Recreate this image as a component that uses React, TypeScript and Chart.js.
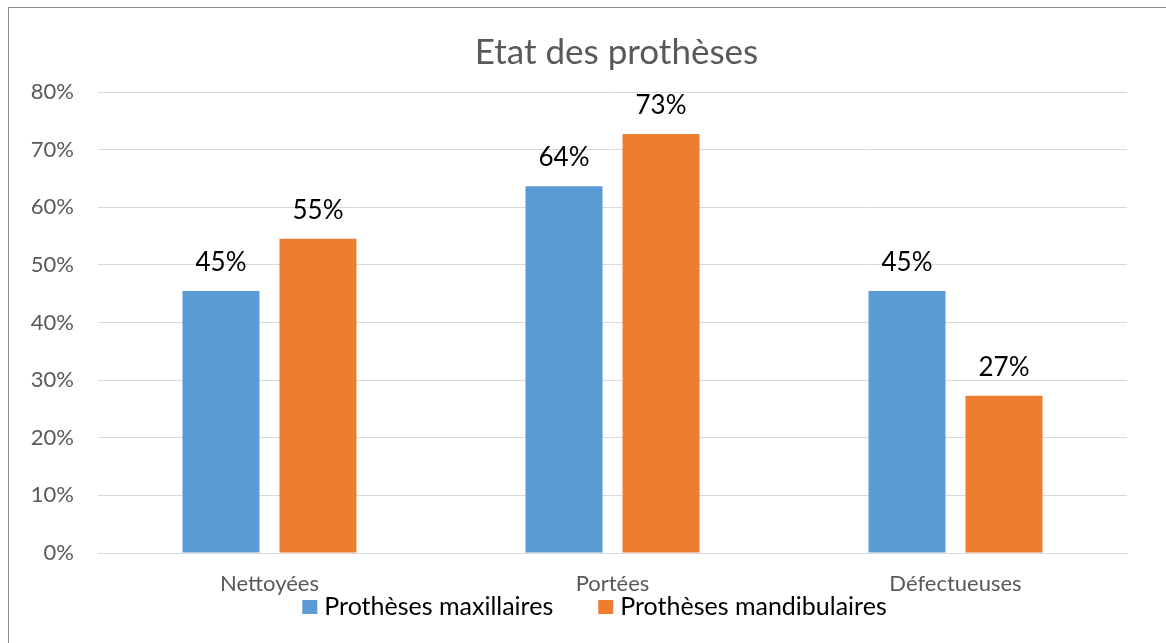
import React, { useEffect, useRef } from "react";
import { Chart, registerables } from "chart.js";

Chart.register(...registerables);

const title = "Etat des prothèses";
const categories = ["Nettoyées", "Portées", "Défectueuses"];
const seriesNames = ["Prothèses maxillaires", "Prothèses mandibulaires"];
const maxillaires = [45.45, 63.64, 45.45];
const mandibulaires = [54.55, 72.73, 27.27];
const seriesColors = ["#5B9BD5", "#ED7D31"];
const yMin = 0;
const yMax = 80;
const yStep = 10;

const FONT = "Lato, 'Open Sans', sans-serif";

const titlePlugin = {
  id: "centeredTitle",
  afterDraw(chart: any) {
    const ctx = chart.ctx;
    const area = chart.chartArea;
    ctx.save();
    ctx.font = `35px ${FONT}`;
    ctx.fillStyle = "#595959";
    ctx.textAlign = "center";
    ctx.textBaseline = "alphabetic";
    ctx.fillText(title, (area.left + area.right) / 2 + 4, area.top - 28);
    ctx.restore();
  },
};

const dataLabelPlugin = {
  id: "dataLabels",
  afterDatasetsDraw(chart: any) {
    const ctx = chart.ctx;
    ctx.save();
    ctx.font = `26px ${FONT}`;
    ctx.fillStyle = "#000000";
    ctx.textAlign = "center";
    ctx.textBaseline = "alphabetic";
    chart.data.datasets.forEach((ds: any, di: number) => {
      const meta = chart.getDatasetMeta(di);
      meta.data.forEach((bar: any, i: number) => {
        const v = ds.data[i];
        ctx.fillText(`${Math.round(v)}%`, bar.x, bar.y - 20);
      });
    });
    ctx.restore();
  },
};

const customLegendPlugin = {
  id: "customLegend",
  afterDraw(chart: any) {
    const ctx = chart.ctx;
    const box = 15;
    const gapText = 7;
    const itemGap = 45;
    ctx.save();
    ctx.font = `25px ${FONT}`;
    const items = chart.data.datasets.map((ds: any) => ({
      label: ds.label,
      color: ds.backgroundColor,
      w: ctx.measureText(ds.label).width,
    }));
    const total =
      items.reduce((s: number, it: any) => s + box + gapText + it.w, 0) +
      itemGap * (items.length - 1);
    const area = chart.chartArea;
    const center = (area.left + area.right) / 2 - 18;
    let x = center - total / 2;
    const baseline = area.bottom + 62;
    ctx.textBaseline = "alphabetic";
    ctx.textAlign = "left";
    items.forEach((it: any) => {
      ctx.fillStyle = it.color;
      ctx.fillRect(x, baseline - 15, box, 14);
      x += box + gapText;
      ctx.fillStyle = "#000000";
      ctx.fillText(it.label, x, baseline);
      x += it.w + itemGap;
    });
    ctx.restore();
  },
};

export default function App() {
  const canvasRef = useRef<HTMLCanvasElement | null>(null);

  useEffect(() => {
    if (!canvasRef.current) return;
    Chart.defaults.font.family = FONT;
    const chart = new Chart(canvasRef.current, {
      type: "bar",
      data: {
        labels: categories,
        datasets: [
          {
            label: seriesNames[0],
            data: maxillaires,
            backgroundColor: seriesColors[0],
            categoryPercentage: 0.5656,
            barPercentage: 0.794,
          },
          {
            label: seriesNames[1],
            data: mandibulaires,
            backgroundColor: seriesColors[1],
            categoryPercentage: 0.5656,
            barPercentage: 0.794,
          },
        ],
      },
      options: {
        animation: false,
        responsive: false,
        maintainAspectRatio: false,
        layout: { padding: { left: 0, right: 39, top: 84, bottom: 40 } },
        plugins: {
          legend: { display: false },
          tooltip: { enabled: false },
          title: { display: false },
        },
        scales: {
          x: {
            grid: { display: false, drawTicks: false },
            border: { display: true, color: "#D9D9D9", width: 1 },
            ticks: {
              color: "#595959",
              font: { size: 22, family: FONT },
              padding: 18,
            },
            afterFit: (s: any) => {
              s.height = 55;
            },
          },
          y: {
            min: yMin,
            max: yMax,
            ticks: {
              stepSize: yStep,
              color: "#595959",
              font: { size: 22, family: FONT },
              padding: 24,
              callback: (v: any) => `${v}%`,
            },
            grid: { color: "#D9D9D9", lineWidth: 1, drawTicks: false },
            border: { display: false },
            afterFit: (s: any) => {
              s.width = 89;
            },
          },
        },
      },
      plugins: [dataLabelPlugin, titlePlugin, customLegendPlugin],
    });
    return () => chart.destroy();
  }, []);

  return (
    <div
      style={{
        position: "fixed",
        left: 8,
        top: 7,
        width: 1157,
        height: 640,
        borderLeft: "1px solid #8C8C8C",
        borderTop: "1px solid #8C8C8C",
        background: "#FFFFFF",
      }}
    >
      <canvas ref={canvasRef} width={1157} height={640} style={{ display: "block" }} />
    </div>
  );
}
